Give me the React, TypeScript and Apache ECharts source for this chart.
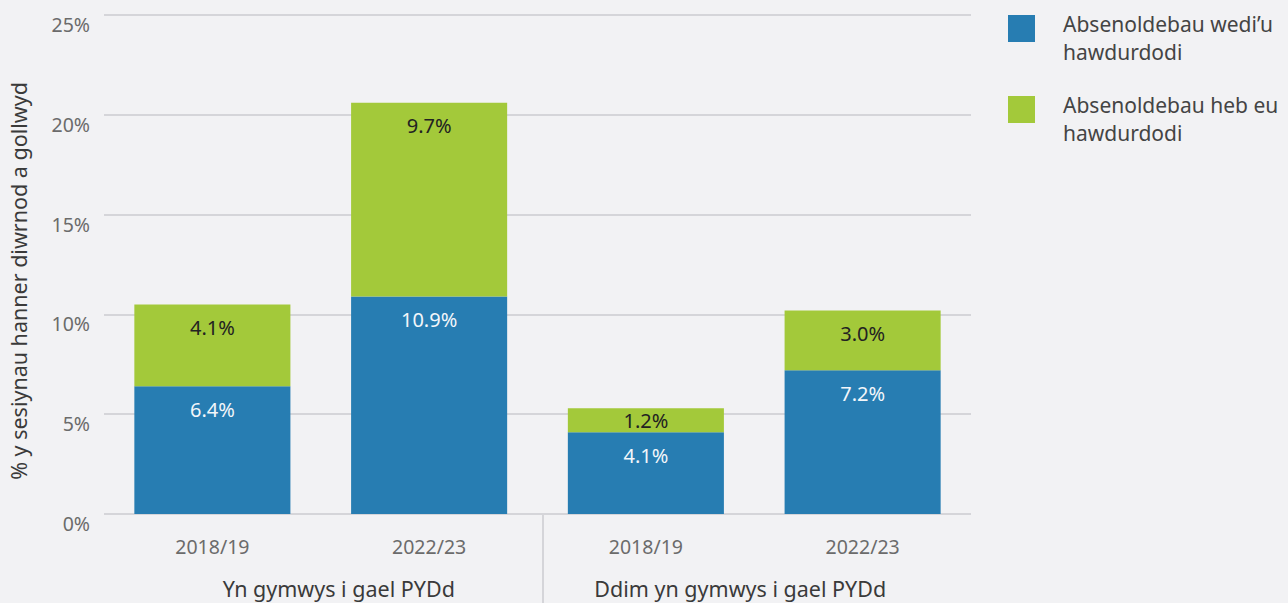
import React, { useEffect, useRef } from "react";
import * as echarts from "echarts";

const years = ["2018/19", "2022/23", "2018/19", "2022/23"];
const groups = ["Yn gymwys i gael PYDd", "Ddim yn gymwys i gael PYDd"];
const seriesNames = ["Absenoldebau wedi\u2019u hawdurdodi", "Absenoldebau heb eu hawdurdodi"];
const authorised = [6.4, 10.9, 4.1, 7.2];
const unauthorised = [4.1, 9.7, 1.2, 3.0];
const yTicks = [0, 5, 10, 15, 20, 25];
const yAxisTitle = "% y sesiynau hanner diwrnod a gollwyd";

const FONT = "Noto Sans";
const BLUE = "#277db2";
const GREEN = "#a3c93a";
const GRID = "#d5d5d9";

export default function App() {
  const ref = useRef<HTMLDivElement>(null);
  useEffect(() => {
    if (!ref.current) return;
    const chart = echarts.init(ref.current, undefined, { renderer: "svg" });
    const fmt = (p: any) => Number(p.value).toFixed(1) + "%";
    chart.setOption({
      animation: false,
      backgroundColor: "#f2f2f4",
      textStyle: { fontFamily: FONT },
      grid: { left: 104, right: 317, top: 15, bottom: 89 },
      legend: {
        orient: "vertical",
        left: 1008,
        top: 10,
        padding: 0,
        itemWidth: 27,
        itemHeight: 46,
        itemGap: 25,
        icon: "path://M0,0h27v27h-27zM0,46",
        symbolKeepAspect: true,
        selectedMode: false,
        formatter: (name: string) => name.replace(" hawdurdodi", "\nhawdurdodi"),
        textStyle: {
          fontFamily: FONT,
          fontSize: 21,
          color: "#444444",
          lineHeight: 28,
          padding: [0, 0, 0, 23],
        },
        data: seriesNames,
      },
      xAxis: [
        {
          type: "category",
          data: years,
          position: "bottom",
          axisLine: { show: false },
          axisTick: { show: false },
          axisLabel: { color: "#6b6b6b", fontSize: 19.5, margin: 22, fontFamily: FONT },
        },
        {
          type: "category",
          data: groups,
          position: "bottom",
          axisLine: { show: false },
          axisTick: { show: false },
          axisLabel: {
            margin: 63,
            formatter: (v: string, i: number) => (i === 0 ? "{a|" + v + "}" : "{b|" + v + "}"),
            rich: {
              a: { fontSize: 21.5, color: "#3a3a3a", fontFamily: FONT, padding: [0, 0, 0, 36] },
              b: { fontSize: 21.5, color: "#3a3a3a", fontFamily: FONT, padding: [0, 28, 0, 0] },
            },
          },
        },
      ],
      yAxis: {
        type: "value",
        min: yTicks[0],
        max: yTicks[yTicks.length - 1],
        interval: 5,
        axisLine: { show: false },
        axisTick: { show: false },
        splitLine: { lineStyle: { color: GRID, width: 2 } },
        axisLabel: {
          formatter: (v: number) => v + "%",
          color: "#6b6b6b",
          fontSize: 19.5,
          fontFamily: FONT,
          margin: 14,
          verticalAlign: "top",
          lineHeight: 19,
        },
      },
      graphic: [
        {
          type: "line",
          shape: { x1: 543, y1: 515, x2: 543, y2: 603 },
          style: { stroke: GRID, lineWidth: 2 },
          silent: true,
        },
        {
          type: "text",
          x: 18,
          y: 281,
          rotation: Math.PI / 2,
          style: {
            text: yAxisTitle,
            fontSize: 21.5,
            fontFamily: FONT,
            fill: "#3a3a3a",
            align: "center",
            verticalAlign: "middle",
          },
        },
      ],
      series: [
        {
          name: seriesNames[0],
          type: "bar",
          stack: "total",
          barWidth: "72%",
          itemStyle: { color: BLUE },
          label: {
            show: true,
            position: "insideTop",
            distance: 13,
            formatter: fmt,
            color: "#f2f6fa",
            fontSize: 20,
            lineHeight: 20,
            fontFamily: FONT,
          },
          data: authorised,
        },
        {
          name: seriesNames[1],
          type: "bar",
          stack: "total",
          barWidth: "72%",
          itemStyle: { color: GREEN },
          label: {
            show: true,
            position: "insideTop",
            distance: 13,
            formatter: fmt,
            color: "#222222",
            fontSize: 20,
            lineHeight: 20,
            fontFamily: FONT,
          },
          data: unauthorised.map((v) =>
            v < 2 ? { value: v, label: { position: "inside" } } : v
          ),
        },
      ],
    });
    return () => chart.dispose();
  }, []);
  return <div ref={ref} style={{ width: 1288, height: 603, position: "absolute", left: 0, top: 0 }} />;
}
